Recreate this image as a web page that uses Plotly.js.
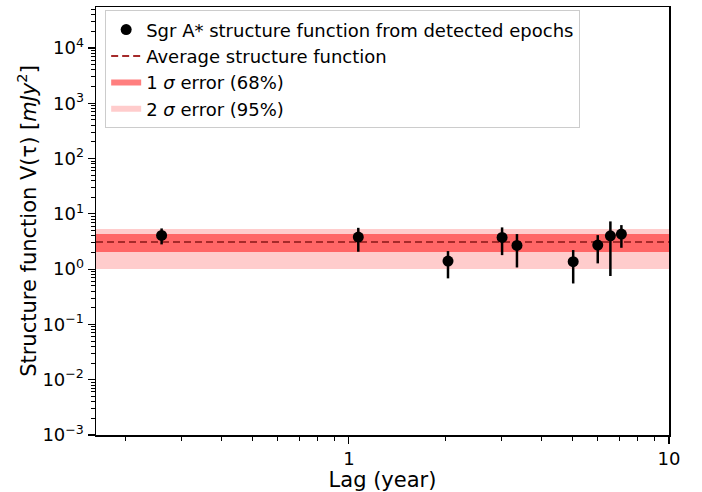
<!DOCTYPE html>
<html>
<head>
<meta charset="utf-8">
<script src="https://cdn.plot.ly/plotly-3.0.1.min.js"></script>
<style>html,body{margin:0;padding:0;background:#fff;}#chart{width:702px;height:492px;}</style>
</head>
<body>
<div id="chart"></div>
<script>
// Data
const lags = [0.26, 1.07, 2.04, 3.01, 3.35, 5.02, 5.99, 6.56, 7.10];
const sfValues = [4.07, 3.79, 1.40, 3.74, 2.68, 1.36, 2.72, 4.00, 4.30];
const sfUpper = [5.44, 5.58, 2.12, 5.68, 4.30, 2.21, 4.12, 7.29, 6.25];
const sfLower = [2.80, 2.06, 0.68, 1.79, 1.07, 0.55, 1.27, 0.75, 2.43];
const meanSF = 3.08;
const oneSigma = [2.03, 4.3];
const twoSigma = [1.0, 5.29];
const xRangeLog = [-0.79, 1];
const yRangeLog = [-3, 4.74];
const yTickVals = [1e-3, 1e-2, 1e-1, 1, 10, 100, 1000, 10000];
const yTickText = ["10<sup>−3</sup>", "10<sup>−2</sup>", "10<sup>−1</sup>", "10<sup>0</sup>", "10<sup>1</sup>", "10<sup>2</sup>", "10<sup>3</sup>", "10<sup>4</sup>"];
const xTickVals = [1, 10];
const xTickText = ["1", "10"];
const minorMultipliers = [2, 3, 4, 5, 6, 7, 8, 9];
const xMinorDecades = [0.1, 1];
const yMinorDecades = [1e-3, 1e-2, 1e-1, 1, 10, 100, 1000, 10000];

function minorTicks(decades) {
  const out = [];
  decades.forEach(d => minorMultipliers.forEach(m => out.push(+(d * m).toPrecision(3))));
  return out;
}

const xLo = Math.pow(10, xRangeLog[0]);
const xHi = Math.pow(10, xRangeLog[1]);
function band(lohi) {
  return { x: [xLo, xHi, xHi, xLo, xLo], y: [lohi[0], lohi[0], lohi[1], lohi[1], lohi[0]] };
}
const b2 = band(twoSigma), b1 = band(oneSigma);

const traces = [
  { x: b2.x, y: b2.y, type: 'scatter', mode: 'none', fill: 'toself',
    fillcolor: 'rgba(255,0,0,0.2)', name: '2 <i>σ</i> error (95%)', legendrank: 4, hoverinfo: 'skip' },
  { x: b1.x, y: b1.y, type: 'scatter', mode: 'none', fill: 'toself',
    fillcolor: 'rgba(255,0,0,0.5)', name: '1 <i>σ</i> error (68%)', legendrank: 3, hoverinfo: 'skip' },
  { x: [xLo, xHi], y: [meanSF, meanSF], type: 'scatter', mode: 'lines',
    line: { color: '#a52a2a', width: 2, dash: '7px,4px' }, name: 'Average structure function', legendrank: 2 },
  { x: lags, y: sfValues, type: 'scatter', mode: 'markers',
    marker: { color: 'black', size: 11 },
    error_y: { type: 'data', symmetric: false,
      array: sfUpper.map((u, i) => u - sfValues[i]),
      arrayminus: sfLower.map((l, i) => sfValues[i] - l),
      color: 'black', thickness: 2.5, width: 0 },
    name: 'Sgr A* structure function from detected epochs', legendrank: 1 }
];

const layout = {
  width: 702, height: 492,
  margin: { l: 96, r: 33, t: 7, b: 57 },
  paper_bgcolor: '#fff', plot_bgcolor: '#fff',
  font: { family: 'DejaVu Sans, sans-serif', size: 18, color: '#000' },
  showlegend: true,
  legend: { x: 0.016, y: 0.992, xanchor: 'left', yanchor: 'top',
    bordercolor: '#cccccc', borderwidth: 1, bgcolor: 'rgba(255,255,255,0.8)',
    font: { size: 18 }, traceorder: 'normal', itemwidth: 30 },
  xaxis: {
    type: 'log', range: xRangeLog, tickvals: xTickVals, ticktext: xTickText,
    ticks: 'outside', ticklen: 7, tickwidth: 1.2, tickcolor: '#000',
    minor: { tickmode: 'array', tickvals: minorTicks(xMinorDecades), ticks: 'outside', ticklen: 4, tickwidth: 1, tickcolor: '#000', showgrid: false },
    showline: true, linecolor: '#000', linewidth: 1.5, mirror: true, showgrid: false, zeroline: false,
    tickfont: { size: 18 },
    title: { text: 'Lag (year)', font: { size: 21 }, standoff: 4 }
  },
  yaxis: {
    type: 'log', range: yRangeLog, tickvals: yTickVals, ticktext: yTickText,
    ticks: 'outside', ticklen: 7, tickwidth: 1.2, tickcolor: '#000',
    minor: { tickmode: 'array', tickvals: minorTicks(yMinorDecades), ticks: 'outside', ticklen: 4, tickwidth: 1, tickcolor: '#000', showgrid: false },
    showline: true, linecolor: '#000', linewidth: 1.5, mirror: true, showgrid: false, zeroline: false,
    tickfont: { size: 18 },
    title: { text: 'Structure function V(τ) [<i>mJy</i><sup>2</sup>]', font: { size: 21 }, standoff: 0 }
  }
};

Plotly.newPlot('chart', traces, layout, { displayModeBar: false, staticPlot: true });
</script>
</body>
</html>
